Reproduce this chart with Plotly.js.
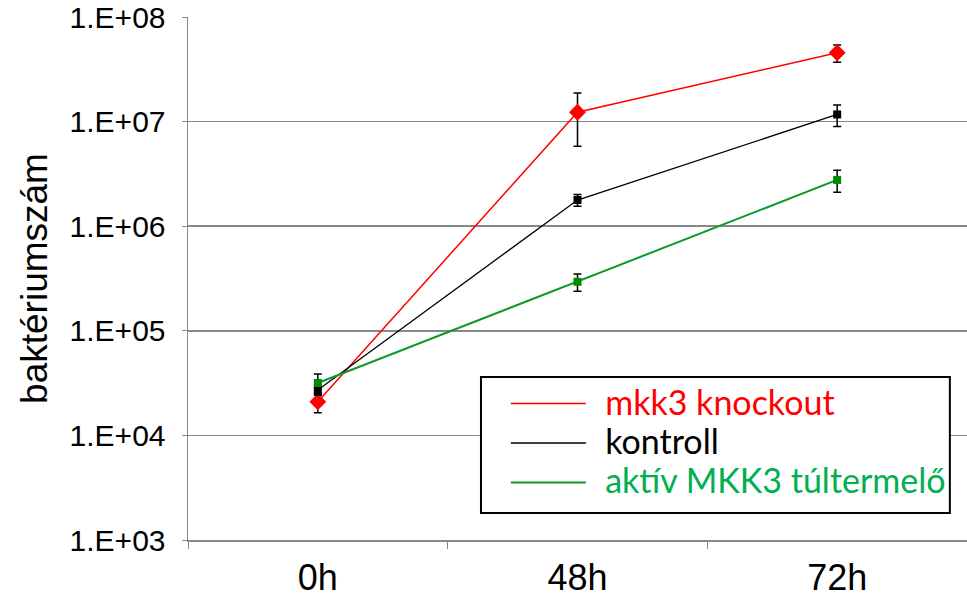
<!DOCTYPE html>
<html>
<head>
<meta charset="utf-8">
<script src="https://cdn.plot.ly/plotly-3.0.1.min.js"></script>
<style>html,body{margin:0;padding:0;background:#fff;}#chart{width:967px;height:603px;}</style>
</head>
<body>
<div id="chart"></div>
<script>
var categories = ['0h', '48h', '72h'];
var knockout = [2.1e4, 1.23e7, 4.55e7];
var knockoutErr = [4.5e3, 6.5e6, 8.5e6];
var kontroll = [2.72e4, 1.78e6, 1.17e7];
var kontrollErr = [3.0e3, 2.3e5, 2.7e6];
var aktiv = [3.17e4, 2.94e5, 2.77e6];
var aktivErr = [7.0e3, 5.5e4, 6.6e5];
var yTickVals = [1e3, 1e4, 1e5, 1e6, 1e7, 1e8];
var yTickText = ['1.E+03', '1.E+04', '1.E+05', '1.E+06', '1.E+07', '1.E+08'];
var names = ['mkk3 knockout', 'kontroll', 'aktív MKK3 túltermelő'];

var redC = '#ff0000', blackC = '#000000', greenLine = '#0a9a2a', greenMark = '#008a00';
var legendText = ['#ff0000', '#000000', '#00b050'];

function lineTrace(y, color, w, i) {
  return {x: categories, y: y, type: 'scatter', mode: 'lines',
    line: {color: color, width: w},
    name: '\u00a0\u00a0<span style="color:' + legendText[i] + ';font-size:34px">' + names[i] + '</span>',
    hoverinfo: 'skip'};
}
function markTrace(y, err, color, sym, size) {
  return {x: categories, y: y, type: 'scatter', mode: 'markers', showlegend: false,
    marker: {color: color, symbol: sym, size: size},
    error_y: {type: 'data', array: err, visible: true, color: '#000', thickness: 1.5, width: 4}};
}

var data = [
  lineTrace(knockout, redC, 1.5, 0),
  lineTrace(kontroll, blackC, 1.3, 1),
  lineTrace(aktiv, greenLine, 2, 2),
  markTrace(knockout, knockoutErr, redC, 'diamond', 13),
  markTrace(kontroll, kontrollErr, blackC, 'square', 8),
  markTrace(aktiv, aktivErr, greenMark, 'square', 8)
];

var layout = {
  width: 967, height: 603,
  margin: {l: 188, r: 0, t: 17, b: 63},
  paper_bgcolor: '#fff', plot_bgcolor: '#fff',
  showlegend: true,
  xaxis: {
    type: 'category', range: [-0.5, 2.5],
    showgrid: false, showline: true, linecolor: '#888', linewidth: 1.5,
    ticks: 'outside', tickson: 'boundaries', ticklen: 7, tickcolor: '#888', tickwidth: 1,
    tickfont: {family: 'Liberation Sans, Arial, sans-serif', size: 36, color: '#000'},
    ticklabelstandoff: 5,
    zeroline: false
  },
  yaxis: {
    type: 'log', range: [3, 8],
    tickvals: yTickVals, ticktext: yTickText,
    showgrid: true, gridcolor: '#888', gridwidth: 1.5,
    showline: true, linecolor: '#888', linewidth: 1.5,
    ticks: 'outside', ticklen: 5, tickcolor: '#888',
    tickfont: {family: 'Liberation Sans, Arial, sans-serif', size: 30, color: '#000'},
    ticklabelstandoff: 10,
    title: {text: 'baktériumszám', font: {family: 'Liberation Sans, Arial, sans-serif', size: 37, color: '#000'}, standoff: 10},
    zeroline: false
  },
  shapes: [{
    type: 'rect', xref: 'paper', yref: 'paper',
    x0: 0.3761, x1: 0.978, y0: 0.0516, y1: 0.3117,
    fillcolor: '#fff', line: {color: '#000', width: 2}, layer: 'above'
  }],
  legend: {
    x: 0.408, y: 0.308, xanchor: 'left', yanchor: 'top',
    bgcolor: 'rgba(0,0,0,0)', borderwidth: 0,
    font: {family: 'Lato, Noto Sans, sans-serif', size: 28, color: '#000'},
    itemwidth: 75, tracegroupgap: 0
  }
};

Plotly.newPlot('chart', data, layout, {displayModeBar: false, staticPlot: true});
</script>
</body>
</html>
